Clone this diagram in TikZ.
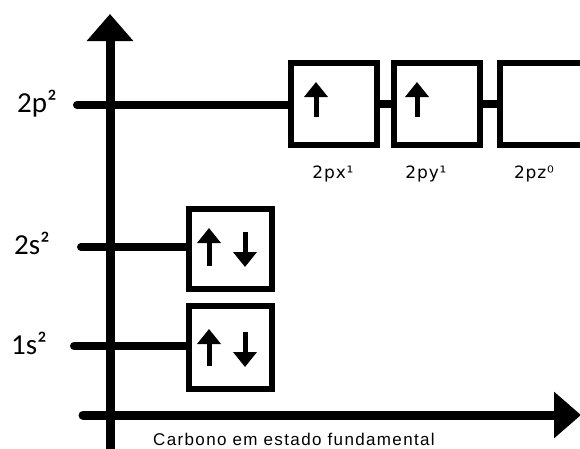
\documentclass[tikz,border=0pt]{standalone}
\usepackage{fontspec}
\usetikzlibrary{arrows.meta,calc}
\newfontfamily\lvlfont{Carlito}
\newfontfamily\orbfont{DejaVu Sans}[LetterSpace=5]
\newfontfamily\capfont{Liberation Sans}[LetterSpace=8]
\begin{document}
\begin{tikzpicture}[x=1pt,y=-1pt,
  axis/.style={line width=9pt,line cap=round,-{Triangle[width=45pt,length=27pt]}},
  level/.style={line width=8pt,line cap=round},
  link/.style={line width=8pt},
  orbital/.style={draw,line width=6pt,rectangle,inner sep=0pt,minimum width=86pt,minimum height=82pt},
  spin/.style={line width=5pt,-{Triangle[width=23pt,length=15pt]}},
  lvllabel/.style={font=\lvlfont\fontsize{29}{30}\selectfont,inner sep=0pt,anchor=base west},
  orblabel/.style={font=\orbfont\fontsize{17}{18}\selectfont,inner sep=0pt,anchor=base},
  caption/.style={font=\capfont\fontsize{17}{18}\selectfont,inner sep=0pt,anchor=base west}]
\clip (0,0) rectangle (580,448);
\fill[white] (0,0) rectangle (580,448);

% axes
\coordinate (ybot) at (110,456);
\coordinate (ytop) at (110,14);
\coordinate (xleft) at (83,415);
\coordinate (xright) at (581,415);
\draw[axis] (ybot) -- (ytop);
\draw[axis] (xleft) -- (xright);

% orbital boxes
\node[orbital] (px) at (334,104) {};
\node[orbital] (py) at (437,104) {};
\node[orbital] (pz) at (543,104) {};
\node[orbital,minimum width=83pt,minimum height=80pt] (s2) at (230.5,249) {};
\node[orbital,minimum width=83pt,minimum height=83pt] (s1) at (230.5,347.5) {};

% energy levels
\coordinate (l2p) at (77,105);
\coordinate (l2s) at (81,247);
\coordinate (l1s) at (74,346);
\draw[level] (l2p) -- (l2p -| px.west);
\draw[level] (l2s) -- (l2s -| s2.west);
\draw[level] (l1s) -- (l1s -| s1.west);
\draw[link] (px.east) -- (py.west);
\draw[link] (py.east) -- (pz.west);

% electrons
\draw[spin] ([shift={(-18,13)}]px.center) -- ++(0,-35);
\draw[spin] ([shift={(-20,13)}]py.center) -- ++(0,-35);
\draw[spin] ([shift={(-21.5,17)}]s2.center) -- ++(0,-38);
\draw[spin] ([shift={(14.5,-17)}]s2.center) -- ++(0,35);
\draw[spin] ([shift={(-21.5,18.5)}]s1.center) -- ++(0,-37);
\draw[spin] ([shift={(14.5,-15.5)}]s1.center) -- ++(0,35);

% labels
\node[lvllabel] (t2p) at (17,112) {2p²};
\node[lvllabel] (t2s) at (14,254) {2s²};
\node[lvllabel] (t1s) at (11,354) {1s²};
\node[orblabel] (tpx) at (333,178) {2px¹};
\node[orblabel] (tpy) at (426,178) {2py¹};
\node[orblabel] (tpz) at (534,178) {2pz⁰};
\node[caption] (cap) at (153,445) {Carbono em estado fundamental};
\end{tikzpicture}
\end{document}
